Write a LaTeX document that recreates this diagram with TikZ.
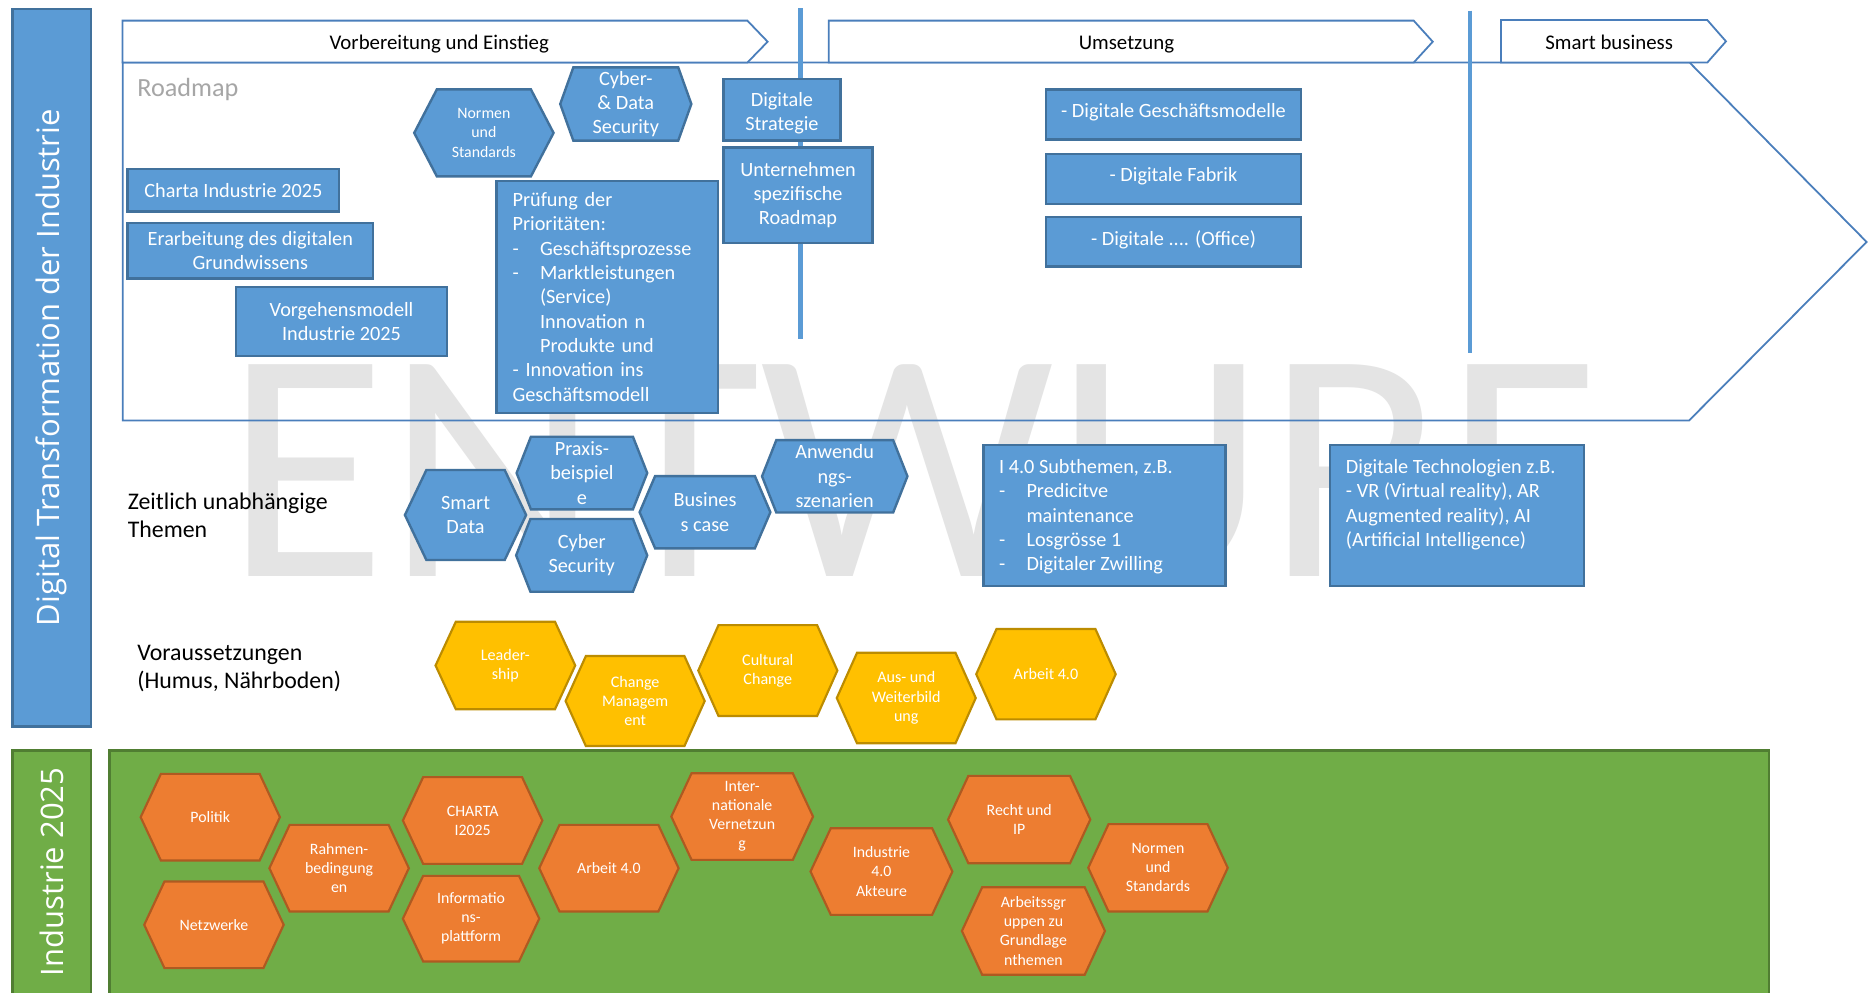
\documentclass[tikz,border=0pt]{standalone}
\usepackage{fontspec}
\setmainfont{Carlito}
\newfontfamily\sidefont{Open Sans}
\definecolor{bfill}{HTML}{5B9BD5}
\definecolor{bdraw}{HTML}{41719C}
\definecolor{aline}{HTML}{4A7EBB}
\definecolor{yfill}{HTML}{FFC000}
\definecolor{ydraw}{HTML}{BC8C00}
\definecolor{ofill}{HTML}{ED7D31}
\definecolor{odraw}{HTML}{AE5A21}
\definecolor{gfill}{HTML}{70AD47}
\definecolor{gdraw}{HTML}{507E32}
\definecolor{wmark}{HTML}{E4E4E4}
\definecolor{rmgray}{HTML}{A6A6A6}
\newcommand\fsz[2]{\fontsize{#1}{#2}\selectfont}
% name, x1, y1, x2, y2, inset, style, text
\newcommand\hexa[8]{%
  \draw[#7] (#2,{(#3+#5)/2}) -- ({#2+#6},#3) -- ({#4-#6},#3) -- (#4,{(#3+#5)/2})
     -- ({#4-#6},#5) -- ({#2+#6},#5) -- cycle;
  \node[#7text] (#1) at ({(#2+#4)/2},{(#3+#5)/2}) {#8};
}
\tikzset{
  bbox/.style={draw=bdraw, fill=bfill, line width=2pt, text=white, inner sep=0pt,
    align=center, font=\fsz{17}{20.4}},
  bhex/.style={draw=bdraw, fill=bfill, line width=2pt},
  bhextext/.style={text=white, align=center, inner sep=0pt, font=\fsz{17}{20.4}},
  bshex/.style={draw=bdraw, fill=bfill, line width=2pt},
  bshextext/.style={text=white, align=center, inner sep=0pt, font=\fsz{13.3}{16.2}},
  yhex/.style={draw=ydraw, fill=yfill, line width=1.8pt},
  yhextext/.style={text=white, align=center, inner sep=0pt, font=\fsz{13.5}{16.2}},
  ohex/.style={draw=odraw, fill=ofill, line width=1.8pt},
  ohextext/.style={text=white, align=center, inner sep=0pt, font=\fsz{13.3}{16}},
  chev/.style={draw=aline, fill=white, line width=1.5pt},
  chevtext/.style={anchor=base, font=\fsz{17.5}{21}, text=black, inner sep=0pt},
  sep/.style={draw=bfill, line width=3.5pt},
  bodytext/.style={anchor=north west, inner sep=0pt, align=left, text=white, font=\fsz{17}{20.4}},
  lefttext/.style={anchor=north west, inner sep=0pt, align=left, text=black, font=\fsz{20}{23.7}},
}
\begin{document}
\begin{tikzpicture}[x=1pt,y=-1pt]
\useasboundingbox (0,0) rectangle (1568,833);
\fill[white] (0,0) rectangle (1568,833);
\clip (0,0) rectangle (1568,833);

% watermark
\node[anchor=base west, inner sep=0pt, text=wmark, font=\fsz{277}{277}] (wm) at (189,484) {ENTWURF};

% big roadmap arrow
\draw[draw=aline, line width=1.5pt] (103,52.5) -- (1417.5,52.5) -- (1566,203) -- (1417,352.8) -- (103,352.8) -- cycle;

% chevrons
\draw[chev] (102.7,17.3) -- (627,17.3) -- (644,35) -- (627,52.5) -- (102.7,52.5) -- cycle;
\node[chevtext] (c1) at (368.5,41.4) {Vorbereitung und Einstieg};
\draw[chev] (695.2,17.3) -- (1186,17.3) -- (1202,35) -- (1186,52.5) -- (695.2,52.5) -- cycle;
\node[chevtext] (c2) at (945,41.8) {Umsetzung};
\draw[chev] (1259.2,16.8) -- (1432.3,16.8) -- (1448,34.7) -- (1432.3,52.5) -- (1259.2,52.5) -- cycle;
\node[chevtext] (c3) at (1350,41.4) {Smart business};

% separators
\draw[sep] (671.5,7) -- (671.5,284);
\draw[sep] (1233,9) -- (1233,296);

\node[anchor=base west, inner sep=0pt, text=rmgray, font=\fsz{22}{26}] (rm) at (115,81) {Roadmap};

% boxes
\node[bbox, minimum width=177.6pt, minimum height=35.5pt] (charta) at (195.8,159.75) {Charta Industrie 2025};
\node[bbox, minimum width=206pt, minimum height=46.5pt] (erarb) at (210,210.25) {Erarbeitung des digitalen\\Grundwissens};
\node[bbox, minimum width=177pt, minimum height=57.6pt] (vorg) at (286.5,269.8) {Vorgehensmodell\\Industrie 2025};
\node[bbox, text width=159pt, inner xsep=13.4pt, align=left, minimum height=194.7pt] (pruef) at (509.55,249.15)
 {Prüfung der\\Prioritäten:\\\makebox[23pt][l]{-}Geschäftsprozesse\\\makebox[23pt][l]{-}Marktleistungen\\\hspace*{23pt}(Service)\\\hspace*{23pt}Innovation n\\\hspace*{23pt}Produkte und\\- Innovation ins\\Geschäftsmodell};
\node[bbox, minimum width=98pt, minimum height=51.5pt] (dstrat) at (656,92.25) {};
\node[bhextext] (dstratt) at (656,95) {Digitale\\Strategie};
\node[bbox, minimum width=125pt, minimum height=80.4pt] (unt) at (669.5,163.8) {Unternehmen\\spezifische\\Roadmap};
\node[bbox, minimum width=213.8pt, minimum height=42pt] (dgm) at (984.5,96) {};
\node[bhextext] (dgmt) at (984.5,94) {- Digitale Geschäftsmodelle};
\node[bbox, minimum width=213.8pt, minimum height=42pt] (dfab) at (984.5,150) {};
\node[bhextext] (dfabt) at (984.5,148) {- Digitale Fabrik};
\node[bbox, minimum width=213.8pt, minimum height=41.4pt] (doff) at (984.5,203) {};
\node[bhextext] (dofft) at (984.5,201.5) {- Digitale .... (Office)};

\node[bbox, minimum width=203pt, minimum height=118pt] (isub) at (926.5,432.4) {};
\node[bodytext] (isubt) at (838,382.7) {\strut I 4.0 Subthemen, z.B.\\\makebox[23pt][l]{-}Predicitve\\\hspace*{23pt}maintenance\\\makebox[23pt][l]{-}Losgrösse 1\\\makebox[23pt][l]{-}Digitaler Zwilling};
\node[bbox, minimum width=213.4pt, minimum height=118pt] (dtech) at (1222.3,432.4) {};
\node[bodytext] (dtecht) at (1129,382.7) {\strut Digitale Technologien z.B.\\- VR (Virtual reality), AR\\Augmented reality), AI\\(Artificial Intelligence)};

% row labels
\node[lefttext] (zeit) at (107,410.5) {\strut Zeitlich unabhängige\\Themen};
\node[lefttext] (vor) at (115,537) {\strut Voraussetzungen\\(Humus, Nährboden)};

% blue hexagons
\hexa{hnus}{347.5}{75}{464.4}{148}{19}{bshex}{Normen\\und\\Standards}
\hexa{hcds}{470}{56.5}{580}{118}{11}{bhex}{Cyber-\\\& Data\\Security}
\hexa{hsd}{339.7}{394.3}{441.4}{469.8}{18}{bhex}{Smart\\Data}
\hexa{hpb}{433.4}{366.4}{543}{427.3}{12}{bhex}{Praxis-\\beispiel\\e}
\hexa{hcs}{433}{435.4}{543}{496.4}{12}{bhex}{Cyber\\Security}
\hexa{hbc}{536.6}{399.4}{646.3}{460}{13}{bhex}{Busines\\s case}
\hexa{has}{639.3}{369.2}{761.3}{430}{12}{bhex}{Anwendu\\ngs-\\szenarien}

% yellow hexagons
\hexa{yls}{365.4}{521.6}{482.6}{595}{17}{yhex}{Leader-\\ship}
\hexa{ycm}{474.5}{550.4}{591.2}{625.9}{17}{yhex}{Change\\Managem\\ent}
\hexa{ycc}{585.8}{524.4}{702.5}{600.7}{17}{yhex}{Cultural\\Change}
\hexa{yaw}{702}{547.6}{818.6}{623.6}{17}{yhex}{Aus- und\\Weiterbild\\ung}
\hexa{yab}{819}{527.7}{936}{603.5}{17}{yhex}{Arbeit 4.0}

% left bars
\node[draw=bdraw, fill=bfill, line width=2pt, minimum width=65.8pt, minimum height=602pt, inner sep=0pt] (dtbar) at (43.5,308.5) {};
\node[rotate=90, text=white, inner sep=0pt, font=\sidefont\fsz{26}{30}] (dtlabel) at (dtbar.center) {Digital Transformation der Industrie};
\node[draw=gdraw, fill=gfill, line width=2pt, minimum width=65.8pt, minimum height=220.5pt, inner sep=0pt] (gbar) at (43.5,739.75) {};
\node[rotate=90, text=white, inner sep=0pt, font=\sidefont\fsz{26}{30}] (glabel) at (43.5,731.5) {Industrie 2025};
\node[draw=gdraw, fill=gfill, line width=2pt, minimum width=1392pt, minimum height=220.5pt, inner sep=0pt] (gmain) at (788,739.75) {};

% orange hexagons
\hexa{opol}{118}{649.2}{234.8}{721.9}{17}{ohex}{Politik}
\hexa{onet}{121}{739.5}{238}{812.2}{17}{ohex}{Netzwerke}
\hexa{orah}{226}{692}{343}{764.7}{17}{ohex}{Rahmen-\\bedingung\\en}
\hexa{ocha}{338}{652}{455}{724.7}{17}{ohex}{CHARTA\\I2025}
\hexa{oinf}{338}{734.8}{452.4}{806.6}{17}{ohex}{Informatio\\ns-\\plattform}
\hexa{oarb}{452.4}{692}{569.3}{764.7}{17}{ohex}{Arbeit 4.0}
\hexa{oint}{563.2}{648.7}{682.1}{721.4}{17}{ohex}{Inter-\\nationale\\Vernetzun\\g}
\hexa{oind}{680}{694.8}{799}{767.5}{17}{ohex}{Industrie\\4.0\\Akteure}
\hexa{orec}{795.4}{650.9}{914.7}{724.2}{17}{ohex}{Recht und\\IP}
\hexa{onor}{913}{691.4}{1030}{764.7}{17}{ohex}{Normen\\und\\Standards}
\hexa{oags}{807}{744.3}{927}{817.8}{17}{ohex}{Arbeitssgr\\uppen zu\\Grundlage\\nthemen}
\end{tikzpicture}
\end{document}
